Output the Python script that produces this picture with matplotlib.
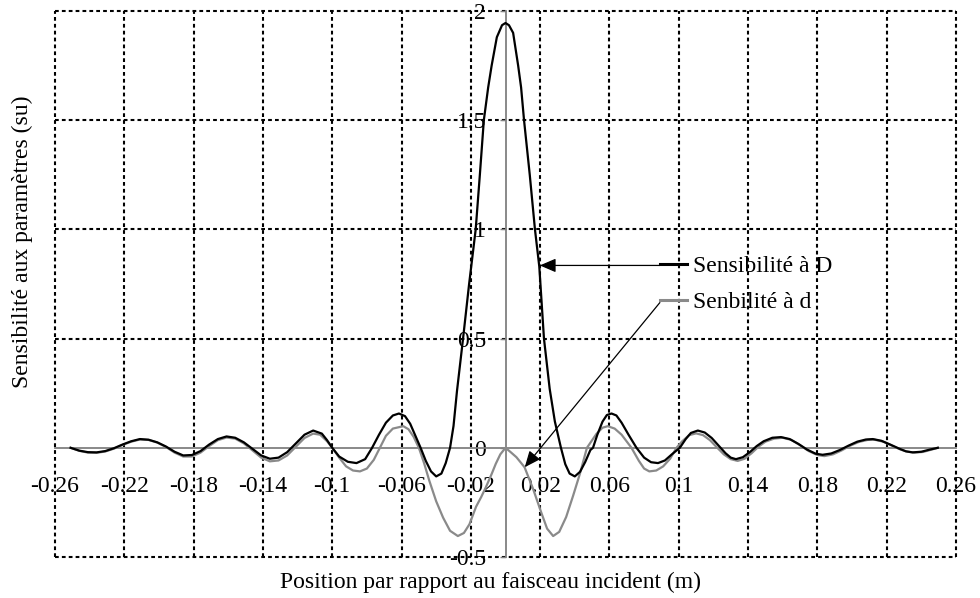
import matplotlib
matplotlib.use("Agg")
import matplotlib.pyplot as plt

# ---------------- data ----------------
x_D = [-0.251, -0.246, -0.241, -0.236, -0.231, -0.226, -0.221, -0.216, -0.211, -0.206,
       -0.201, -0.196, -0.191, -0.186, -0.181, -0.176, -0.171, -0.166, -0.161, -0.156,
       -0.151, -0.146, -0.141, -0.136, -0.131, -0.126, -0.121, -0.116, -0.111, -0.106,
       -0.103, -0.100, -0.096, -0.091, -0.086, -0.081, -0.077, -0.073, -0.069, -0.065,
       -0.0615, -0.058, -0.055, -0.052, -0.049, -0.046, -0.043, -0.040, -0.037, -0.0345,
       -0.032, -0.030, -0.028, -0.0245, -0.021, -0.0172, -0.0148, -0.0125, -0.010, -0.008,
       -0.005, -0.002, 0.000, 0.002, 0.0044, 0.0073, 0.009, 0.0107, 0.0140, 0.0170,
       0.0195, 0.0222, 0.0255, 0.0285, 0.032, 0.0345, 0.037, 0.040, 0.043, 0.046,
       0.049, 0.0505, 0.053, 0.056, 0.0585, 0.0612, 0.064, 0.067, 0.071, 0.0756,
       0.080, 0.084, 0.088, 0.092, 0.096, 0.1006, 0.104, 0.107, 0.111, 0.115,
       0.119, 0.123, 0.127, 0.130, 0.133, 0.137, 0.141, 0.145, 0.149, 0.154,
       0.159, 0.164, 0.169, 0.174, 0.179, 0.183, 0.188, 0.193, 0.198, 0.203,
       0.208, 0.212, 0.217, 0.222, 0.227, 0.231, 0.235, 0.240, 0.245, 0.2495]
y_D = [0.000, -0.013, -0.020, -0.021, -0.015, -0.002, 0.015, 0.030, 0.040, 0.037,
       0.025, 0.006, -0.018, -0.035, -0.033, -0.015, 0.015, 0.040, 0.052, 0.046,
       0.025, -0.005, -0.035, -0.050, -0.045, -0.020, 0.020, 0.060, 0.079, 0.065,
       0.035, 0.000, -0.040, -0.064, -0.070, -0.052, 0.000, 0.060, 0.115, 0.148,
       0.157, 0.145, 0.110, 0.055, 0.000, -0.060, -0.108, -0.131, -0.118, -0.070,
       0.000, 0.100, 0.260, 0.500, 0.750, 1.000, 1.250, 1.500, 1.650, 1.750,
       1.880, 1.935, 1.945, 1.935, 1.900, 1.750, 1.650, 1.500, 1.250, 1.000,
       0.830, 0.500, 0.270, 0.120, 0.000, -0.075, -0.118, -0.131, -0.110, -0.065,
       -0.010, 0.000, 0.060, 0.120, 0.150, 0.157, 0.148, 0.115, 0.060, 0.000,
       -0.045, -0.066, -0.070, -0.058, -0.030, 0.000, 0.040, 0.068, 0.079, 0.070,
       0.045, 0.010, -0.025, -0.045, -0.052, -0.043, -0.020, 0.008, 0.030, 0.046,
       0.049, 0.040, 0.018, -0.008, -0.027, -0.032, -0.026, -0.010, 0.010, 0.028,
       0.038, 0.040, 0.032, 0.015, -0.003, -0.016, -0.021, -0.018, -0.008, 0.000]

x_d = [-0.251, -0.246, -0.241, -0.236, -0.231, -0.226, -0.221, -0.216, -0.211, -0.206,
       -0.201, -0.196, -0.191, -0.186, -0.181, -0.176, -0.171, -0.166, -0.161, -0.156,
       -0.151, -0.146, -0.141, -0.136, -0.131, -0.126, -0.121, -0.116, -0.111, -0.107,
       -0.103, -0.100, -0.096, -0.092, -0.088, -0.084, -0.080, -0.076, -0.0725, -0.069,
       -0.065, -0.059, -0.056, -0.053, -0.050, -0.047, -0.044, -0.040, -0.036, -0.032,
       -0.0275, -0.024, -0.0208, -0.017, -0.014, -0.0113, -0.008, -0.0056, -0.003, 0.000,
       0.003, 0.0063, 0.011, 0.016, 0.0208, 0.024, 0.0275, 0.031, 0.035, 0.039,
       0.0429, 0.047, 0.0525, 0.056, 0.059, 0.063, 0.067, 0.0727, 0.077, 0.080,
       0.083, 0.087, 0.091, 0.095, 0.0987, 0.102, 0.106, 0.110, 0.114, 0.118,
       0.122, 0.126, 0.130, 0.134, 0.138, 0.142, 0.146, 0.150, 0.155, 0.160,
       0.165, 0.170, 0.175, 0.180, 0.184, 0.189, 0.194, 0.199, 0.204, 0.209,
       0.213, 0.218, 0.223, 0.228, 0.232, 0.236, 0.241, 0.246, 0.2495]
y_d = [0.000, -0.014, -0.022, -0.023, -0.017, -0.004, 0.013, 0.028, 0.038, 0.036,
       0.024, 0.004, -0.022, -0.040, -0.040, -0.022, 0.008, 0.035, 0.047, 0.042,
       0.020, -0.012, -0.045, -0.062, -0.058, -0.035, 0.005, 0.045, 0.065, 0.060,
       0.030, 0.000, -0.045, -0.085, -0.104, -0.108, -0.095, -0.055, 0.000, 0.055,
       0.088, 0.099, 0.085, 0.050, 0.000, -0.070, -0.150, -0.245, -0.320, -0.380,
       -0.404, -0.390, -0.350, -0.270, -0.225, -0.180, -0.120, -0.073, -0.030, 0.000,
       -0.020, -0.043, -0.089, -0.190, -0.300, -0.370, -0.404, -0.385, -0.317, -0.220,
       -0.120, 0.000, 0.064, 0.092, 0.099, 0.088, 0.060, 0.000, -0.060, -0.095,
       -0.108, -0.104, -0.085, -0.050, 0.000, 0.030, 0.058, 0.066, 0.058, 0.035,
       0.002, -0.030, -0.052, -0.060, -0.050, -0.025, 0.005, 0.028, 0.042, 0.046,
       0.036, 0.012, -0.015, -0.033, -0.038, -0.030, -0.012, 0.010, 0.027, 0.036,
       0.037, 0.028, 0.010, -0.008, -0.018, -0.022, -0.019, -0.008, 0.000]

x_ticks = [-0.26, -0.22, -0.18, -0.14, -0.10, -0.06, -0.02, 0.02, 0.06, 0.10, 0.14, 0.18, 0.22, 0.26]
x_tick_labels = ["-0.26", "-0.22", "-0.18", "-0.14", "-0.1", "-0.06", "-0.02",
                 "0.02", "0.06", "0.1", "0.14", "0.18", "0.22", "0.26"]
y_ticks = [-0.5, 0.0, 0.5, 1.0, 1.5, 2.0]
y_tick_labels = ["-0.5", "0", "0.5", "1", "1.5", "2"]

series_names = ["Sensibilité à D", "Senbilité à d"]
x_label = "Position par rapport au faisceau incident (m)"
y_label = "Sensibilité aux paramètres (su)"

# annotation arrows (text end -> curve)
arrow_D = ((0.0891, 0.835), (0.0198, 0.835))
arrow_d = ((0.0891, 0.665), (0.0111, -0.089))

# ---------------- figure ----------------
plt.rcParams['font.family'] = ['Liberation Serif', 'DejaVu Serif']
FS = 17
BLACK = "#000000"
GRAY = "#8a8a8a"
AXGRAY = "#808080"

fig = plt.figure(figsize=(9.8, 5.98), dpi=100)
ax = fig.add_axes([55 / 980, 1 - 557 / 598, (956 - 55) / 980, (557 - 11) / 598])
ax.set_xlim(-0.26, 0.26)
ax.set_ylim(-0.5, 2.0)

dot = (0, (1.8, 1.5))
for xv in x_ticks:
    ax.axvline(xv, color=BLACK, lw=1.5, ls=dot, zorder=1, clip_on=False)
for yv in y_ticks:
    if yv == 0.0:
        continue
    ax.axhline(yv, color=BLACK, lw=1.5, ls=dot, zorder=1, clip_on=False)

# axes crossing at zero
for s in ['top', 'right']:
    ax.spines[s].set_visible(False)
ax.spines['bottom'].set_position(('data', 0))
ax.spines['left'].set_position(('data', 0))
for s in ['bottom', 'left']:
    ax.spines[s].set_color(AXGRAY)
    ax.spines[s].set_linewidth(1.3)
    ax.spines[s].set_zorder(2)

ax.set_xticks(x_ticks)
ax.set_xticklabels(x_tick_labels)
ax.set_yticks(y_ticks)
ax.set_yticklabels(y_tick_labels)
ax.tick_params(axis='x', length=0, pad=20, labelsize=FS)
ax.tick_params(axis='y', length=4, width=1.0, color=AXGRAY, direction='out', pad=10, labelsize=FS)

lD, = ax.plot(x_D, y_D, color=BLACK, lw=1.6, zorder=4, label=series_names[0])
ld, = ax.plot(x_d, y_d, color=GRAY, lw=1.6, zorder=3, label=series_names[1])

for (start, tip) in (arrow_D, arrow_d):
    ax.annotate("", xy=tip, xytext=start,
                arrowprops=dict(arrowstyle='-|>,head_length=0.7,head_width=0.3',
                                color=BLACK, lw=0.9, shrinkA=0, shrinkB=0,
                                mutation_scale=14), zorder=5)

leg = fig.legend(handles=[lD, ld], labels=series_names, loc='center left',
                 bbox_to_anchor=(660 / 980, 1 - 284.5 / 598), frameon=False,
                 fontsize=FS, handlelength=1.15, handletextpad=0.25,
                 borderpad=0, borderaxespad=0, labelspacing=0.6)
for h in leg.legend_handles:
    h.set_linewidth(2.2)

fig.text(490 / 980, 1 - 582 / 598, x_label, ha='center', va='center', fontsize=FS)
fig.text(22 / 980, 1 - 242 / 598, y_label, ha='center', va='center', rotation=90, fontsize=FS)

fig.savefig("out.png", dpi=100)
